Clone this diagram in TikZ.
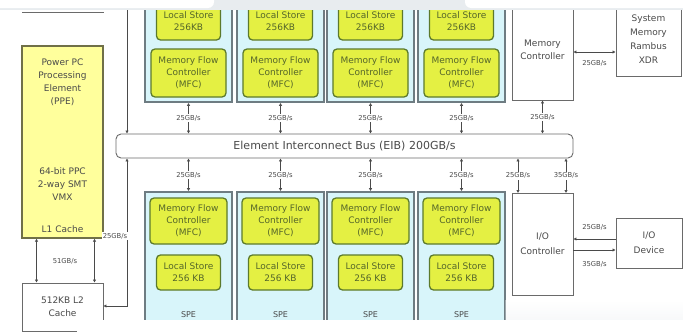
\documentclass[tikz,border=0pt]{standalone}
\usepackage{fontspec}
\setmainfont{DejaVu Sans}
\usetikzlibrary{arrows.meta}
\definecolor{spefill}{HTML}{D8F5FA}
\definecolor{speborder}{HTML}{6E7C82}
\definecolor{limefill}{HTML}{E4F043}
\definecolor{limeborder}{HTML}{5C7A2C}
\definecolor{limetext}{HTML}{55662A}
\definecolor{ppefill}{HTML}{FFFF9C}
\definecolor{ppeborder}{HTML}{707048}
\definecolor{boxgray}{HTML}{6A6A6A}
\definecolor{textgray}{HTML}{4A4A4A}
\definecolor{bandgray}{HTML}{E8ECEF}
\begin{document}
\begin{tikzpicture}[x=1pt,y=-1pt,
  spebox/.style={draw=speborder, line width=1.7pt, fill=spefill, minimum width=87pt, inner sep=0pt},
  limebox/.style={draw=limeborder, line width=1.3pt, fill=limefill, rounded corners=4pt,
    align=center, text=limetext, font=\fontsize{9}{12}\selectfont, inner sep=0pt},
  plainbox/.style={draw=boxgray, line width=0.9pt, fill=white, align=center,
    text=textgray, font=\fontsize{9}{13}\selectfont, inner sep=0pt},
  plaintext/.style={text=textgray, align=center, font=\fontsize{9}{13}\selectfont, inner sep=0pt},
  rate/.style={font=\fontsize{6.8}{8}\selectfont, text=textgray, fill=white, inner sep=1pt},
  link/.style={draw=textgray, line width=0.8pt, {Latex[length=3pt,width=3.5pt]}-{Latex[length=3pt,width=3.5pt]}},
  wire/.style={draw=textgray, line width=0.8pt}]
\useasboundingbox (0,0) rectangle (683,332);

% ---- Element Interconnect Bus
\node[plainbox, rounded corners=5pt, minimum width=457pt, minimum height=24pt,
  font=\fontsize{11}{12}\selectfont] (eib) at (344.5,146) {Element Interconnect Bus (EIB) 200GB/s};

% ---- upper row of SPEs
\foreach \i/\cx in {1/188.5, 2/280.5, 3/370.5, 4/461.5} {
  \node[spebox, minimum height=112pt] (spu\i) at (\cx,46) {};
  \node[limebox, minimum width=64pt, minimum height=37pt] (lsu\i) at (\cx,21.5) {Local Store\\256KB};
  \node[limebox, minimum width=75pt, minimum height=48pt] (mfu\i) at (\cx,73) {Memory Flow\\Controller\\(MFC)};
  \draw[link] (spu\i.south) -- node[rate] {25GB/s} (spu\i.south |- eib.north);
}

% ---- lower row of SPEs
\foreach \i/\cx in {1/188.5, 2/280.5, 3/370.5, 4/461.5} {
  \node[spebox, minimum height=150pt] (spl\i) at (\cx,267) {};
  \node[limebox, minimum width=77pt, minimum height=46pt] (mfl\i) at (\cx,221) {Memory Flow\\Controller\\(MFC)};
  \node[limebox, minimum width=64pt, minimum height=35pt] (lsl\i) at (\cx,272.5) {Local Store\\256 KB};
  \node[text=textgray, font=\fontsize{8}{9}\selectfont] (spename\i) at (\cx,315) {SPE};
  \draw[link] (spl\i.north |- eib.south) -- node[rate] {25GB/s} (spl\i.north);
}

% ---- memory side
\node[plainbox, minimum width=61pt, minimum height=110pt] (mc) at (542.5,45) {};
\node[plaintext] (mctext) at (542.5,50) {Memory\\Controller};
\node[plainbox, minimum width=65pt, minimum height=86pt] (xdr) at (648.5,33) {};
\node[plaintext, font=\fontsize{9}{14}\selectfont] (xdrtext) at (648.5,39) {System\\Memory\\Rambus\\XDR};
\draw[link] (mc.south) -- node[rate] {25GB/s} (mc.south |- eib.north);
\coordinate (mcport) at (mc.east |- 0,52);
\draw[link] (mcport) -- (mcport -| xdr.west);
\node[rate] (mcrate) at (594.5,63) {25GB/s};

% ---- I/O side
\node[plainbox, minimum width=61pt, minimum height=102pt, font=\fontsize{9}{15}\selectfont] (ioc) at (542.5,244) {I/O\\Controller};
\node[plainbox, minimum width=66pt, minimum height=50pt, font=\fontsize{9}{15}\selectfont] (iod) at (649,243) {I/O\\Device};
\coordinate (ioa) at (518,193);
\coordinate (iob) at (566,193);
\draw[link] (ioa |- eib.south) -- node[rate] {25GB/s} (ioa);
\draw[link] (iob |- eib.south) -- node[rate] {35GB/s} (iob);
\coordinate (inport) at (iod.west |- 0,239);
\coordinate (outport) at (ioc.east |- 0,250);
\draw[wire, -{Latex[length=3pt,width=3.5pt]}] (inport) -- (inport -| ioc.east);
\draw[wire, -{Latex[length=3pt,width=3.5pt]}] (outport) -- (outport -| iod.west);
\node[rate] (inrate) at (594.5,227) {25GB/s};
\node[rate] (outrate) at (594.5,264) {35GB/s};

% ---- PPE and L2 cache
\node[draw=ppeborder, line width=1.3pt, fill=ppefill, minimum width=81pt, minimum height=192pt, inner sep=0pt] (ppe) at (62.5,142) {};
\node[plaintext] (ppename) at (62.5,82) {Power PC\\Processing\\Element\\(PPE)};
\node[plaintext] (ppecore) at (62.5,184) {64-bit PPC\\2-way SMT\\VMX};
\node[plaintext] (l1) at (62.5,229) {L1 Cache};
\node[plainbox, minimum width=81pt, minimum height=48pt] (l2) at (62.5,307) {512KB L2\\Cache};
\draw[link] ([xshift=-26pt]ppe.south) -- ([xshift=-26pt]l2.north);
\draw[link] ([xshift=32pt]ppe.south) -- ([xshift=32pt]l2.north);
\node[rate] (l2rate) at (65,261) {51GB/s};

% PPE bus connection to the EIB
\coordinate (bustop) at (127,-10);
\coordinate (busturn) at (127,306);
\draw[wire, -{Latex[length=3pt,width=3.5pt]}] (bustop) -- (bustop |- eib.north);
\draw[wire, {Latex[length=3pt,width=3.5pt]}-{Latex[length=3pt,width=3.5pt]}] (bustop |- eib.south) -- (busturn) -- (busturn -| l2.east);
\node[rate] (busrate) at (115,236) {25GB/s};

% stray rule at the top left
\coordinate (rulea) at (22,12);
\coordinate (ruleb) at (104,12);
\draw[draw=boxgray, line width=0.7pt] (rulea) -- (ruleb);

% ---- window overlays at the top and bottom edges
\fill[bandgray] (0,0) rectangle (683,10);
\fill[white, rounded corners=6pt] (-10,-10) rectangle (214,8);
\fill[white, rounded corners=6pt] (465,-10) rectangle (700,8);
\shade[top color=white, bottom color=bandgray, opacity=0.35] (505,300) rectangle (683,320);
\fill[white] (77,320) rectangle (690,340);
\end{tikzpicture}
\end{document}
